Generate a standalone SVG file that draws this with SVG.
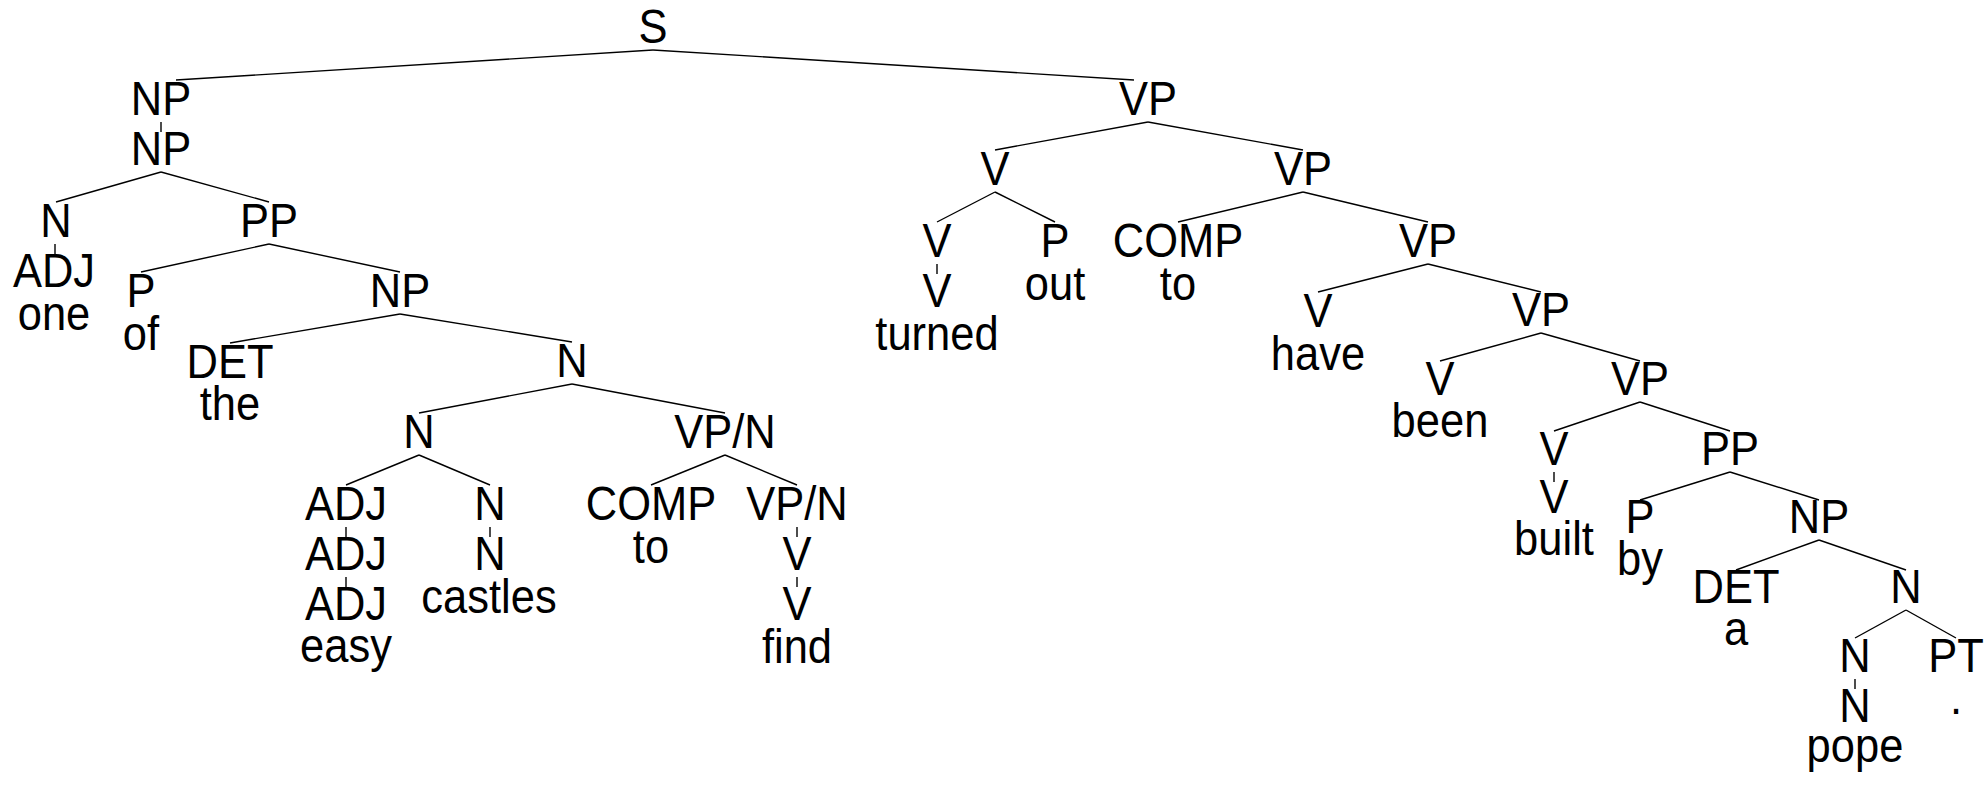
<svg xmlns="http://www.w3.org/2000/svg" width="1986" height="785" viewBox="0 0 1986 785">
<style>
text{font-family:"Liberation Sans",Arial,sans-serif;font-size:43.5px;fill:#000;text-anchor:middle}
.n{transform:scale(1,1.09)}
.e line{stroke:#000;stroke-width:1.4;fill:none}
</style>
<rect width="1986" height="785" fill="#fff"/>
<g class="e" id="connectors">
<line x1="653" y1="50" x2="176" y2="80"/>
<line x1="653" y1="50" x2="1134" y2="80"/>
<line x1="161" y1="122" x2="161" y2="132"/>
<line x1="161" y1="172" x2="56" y2="202"/>
<line x1="161" y1="172" x2="269" y2="202"/>
<line x1="55" y1="244" x2="55" y2="254"/>
<line x1="269" y1="244" x2="141" y2="272"/>
<line x1="269" y1="244" x2="400" y2="272"/>
<line x1="400" y1="314" x2="230" y2="343"/>
<line x1="400" y1="314" x2="572" y2="342"/>
<line x1="572" y1="384" x2="419" y2="413"/>
<line x1="572" y1="384" x2="725" y2="413"/>
<line x1="419" y1="455" x2="346" y2="485"/>
<line x1="419" y1="455" x2="490" y2="485"/>
<line x1="725" y1="455" x2="651" y2="485"/>
<line x1="725" y1="455" x2="797" y2="485"/>
<line x1="346" y1="527" x2="346" y2="537"/>
<line x1="346" y1="577" x2="346" y2="587"/>
<line x1="490" y1="527" x2="490" y2="537"/>
<line x1="797" y1="527" x2="797" y2="537"/>
<line x1="797" y1="577" x2="797" y2="587"/>
<line x1="1148" y1="122" x2="995" y2="150"/>
<line x1="1148" y1="122" x2="1303" y2="150"/>
<line x1="995" y1="192" x2="937" y2="222"/>
<line x1="995" y1="192" x2="1055" y2="222"/>
<line x1="937" y1="264" x2="937" y2="274"/>
<line x1="1303" y1="192" x2="1178" y2="222"/>
<line x1="1303" y1="192" x2="1428" y2="222"/>
<line x1="1428" y1="264" x2="1318" y2="292"/>
<line x1="1428" y1="264" x2="1541" y2="292"/>
<line x1="1541" y1="333" x2="1440" y2="361"/>
<line x1="1541" y1="333" x2="1640" y2="361"/>
<line x1="1640" y1="402" x2="1554" y2="431"/>
<line x1="1640" y1="402" x2="1730" y2="431"/>
<line x1="1554" y1="472" x2="1554" y2="482"/>
<line x1="1730" y1="472" x2="1640" y2="500"/>
<line x1="1730" y1="472" x2="1819" y2="500"/>
<line x1="1819" y1="540" x2="1736" y2="570"/>
<line x1="1819" y1="540" x2="1906" y2="570"/>
<line x1="1906" y1="610" x2="1855" y2="638"/>
<line x1="1906" y1="610" x2="1956" y2="638"/>
<line x1="1855" y1="679" x2="1855" y2="689"/>
</g>
<g class="n" id="n_S"><text x="653" y="39.45">S</text></g>
<g class="n" id="n_NP1"><text x="161" y="105.5">NP</text></g>
<g class="n" id="n_NP2"><text x="161" y="151.38">NP</text></g>
<g class="n" id="n_N1"><text x="56" y="217.43">N</text></g>
<g class="n" id="n_ADJ1"><text x="54" y="263.3">ADJ</text></g>
<g class="n" id="w_one"><text x="54" y="302.75">one</text></g>
<g class="n" id="n_PP1"><text x="269" y="217.43">PP</text></g>
<g class="n" id="n_P1"><text x="141" y="281.65">P</text></g>
<g class="n" id="w_of"><text x="141" y="321.1">of</text></g>
<g class="n" id="n_NP3"><text x="400" y="281.65">NP</text></g>
<g class="n" id="n_DET1"><text x="230" y="346.79">DET</text></g>
<g class="n" id="w_the"><text x="230" y="385.32">the</text></g>
<g class="n" id="n_N2"><text x="572" y="345.87">N</text></g>
<g class="n" id="n_N3"><text x="419" y="411.01">N</text></g>
<g class="n" id="n_VPN1"><text x="725" y="411.01">VP/N</text></g>
<g class="n" id="n_ADJ2"><text x="346" y="477.06">ADJ</text></g>
<g class="n" id="n_ADJ3"><text x="346" y="522.94">ADJ</text></g>
<g class="n" id="n_ADJ4"><text x="346" y="568.81">ADJ</text></g>
<g class="n" id="w_easy"><text x="346" y="607.5">easy</text></g>
<g class="n" id="n_N4"><text x="490" y="477.06">N</text></g>
<g class="n" id="n_N5"><text x="490" y="522.94">N</text></g>
<g class="n" id="w_castles"><text x="489" y="562.39">castles</text></g>
<g class="n" id="n_COMP1"><text x="651" y="477.06">COMP</text></g>
<g class="n" id="w_to1"><text x="651" y="516.51">to</text></g>
<g class="n" id="n_VPN2"><text x="797" y="477.06">VP/N</text></g>
<g class="n" id="n_V1"><text x="797" y="522.94">V</text></g>
<g class="n" id="n_V2"><text x="797" y="568.81">V</text></g>
<g class="n" id="w_find"><text x="797" y="608.26">find</text></g>
<g class="n" id="n_VP1"><text x="1148" y="105.5">VP</text></g>
<g class="n" id="n_V3"><text x="995" y="169.72">V</text></g>
<g class="n" id="n_VP2"><text x="1303" y="169.72">VP</text></g>
<g class="n" id="n_V4"><text x="937" y="235.78">V</text></g>
<g class="n" id="n_V5"><text x="937" y="281.65">V</text></g>
<g class="n" id="w_turned"><text x="937" y="321.1">turned</text></g>
<g class="n" id="n_P2"><text x="1055" y="235.78">P</text></g>
<g class="n" id="w_out"><text x="1055" y="275.23">out</text></g>
<g class="n" id="n_COMP2"><text x="1178" y="235.78">COMP</text></g>
<g class="n" id="w_to2"><text x="1178" y="275.23">to</text></g>
<g class="n" id="n_VP3"><text x="1428" y="235.78">VP</text></g>
<g class="n" id="n_V6"><text x="1318" y="300">V</text></g>
<g class="n" id="w_have"><text x="1318" y="339.45">have</text></g>
<g class="n" id="n_VP4"><text x="1541" y="299.08">VP</text></g>
<g class="n" id="n_V7"><text x="1440" y="362.39">V</text></g>
<g class="n" id="w_been"><text x="1440" y="400.92">been</text></g>
<g class="n" id="n_VP5"><text x="1640" y="362.39">VP</text></g>
<g class="n" id="n_V8"><text x="1554" y="426.61">V</text></g>
<g class="n" id="n_V9"><text x="1554" y="470.64">V</text></g>
<g class="n" id="w_built"><text x="1554" y="509.17">built</text></g>
<g class="n" id="n_PP2"><text x="1730" y="426.61">PP</text></g>
<g class="n" id="n_P3"><text x="1640" y="488.99">P</text></g>
<g class="n" id="w_by"><text x="1640" y="527.52">by</text></g>
<g class="n" id="n_NP4"><text x="1819" y="488.99">NP</text></g>
<g class="n" id="n_DET2"><text x="1736" y="553.21">DET</text></g>
<g class="n" id="w_a"><text x="1736" y="591.74">a</text></g>
<g class="n" id="n_N6"><text x="1906" y="553.21">N</text></g>
<g class="n" id="n_N7"><text x="1855" y="616.51">N</text></g>
<g class="n" id="n_N8"><text x="1855" y="662.39">N</text></g>
<g class="n" id="w_pope"><text x="1855" y="699.08">pope</text></g>
<g class="n" id="n_PT"><text x="1956" y="616.51">PT</text></g>
<g class="n" id="w_dot"><text x="1956" y="655.05">.</text></g>
</svg>
